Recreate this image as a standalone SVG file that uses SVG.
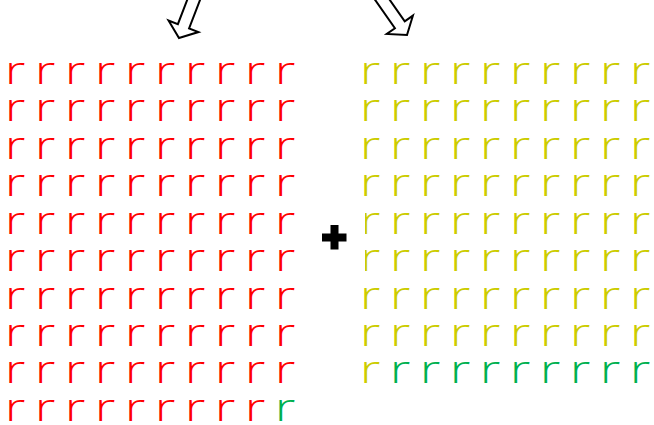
<svg xmlns="http://www.w3.org/2000/svg" width="654" height="425" viewBox="0 0 654 425">
<style>
.red{fill:#ff0000}.yel{fill:#cccc00}.grn{fill:#00b050}
.g text{font-family:"Open Sans","Noto Sans",sans-serif;font-weight:300;font-size:39px}
.arrow{fill:#fff;stroke:#000;stroke-width:2;stroke-linejoin:miter}
</style>
<g id="arrows">
<polygon class="arrow" points="0,0 16,-12.5 6,-12.5 6,-50 -6,-50 -6,-12.5 -16,-12.5" transform="translate(179,38) rotate(21)"/>
<polygon class="arrow" points="0,0 16,-12.5 6,-12.5 6,-50 -6,-50 -6,-12.5 -16,-12.5" transform="translate(407,35) rotate(-35)"/>
</g>
<g id="left-grid" class="g red" transform="scale(1.35 1)">
<text x="3.56 25.78 48 70.22 92.44 114.67 136.89 159.11 181.33 203.56" y="84">rrrrrrrrrr</text>
<text x="3.56 25.78 48 70.22 92.44 114.67 136.89 159.11 181.33 203.56" y="121.4">rrrrrrrrrr</text>
<text x="3.56 25.78 48 70.22 92.44 114.67 136.89 159.11 181.33 203.56" y="158.9">rrrrrrrrrr</text>
<text x="3.56 25.78 48 70.22 92.44 114.67 136.89 159.11 181.33 203.56" y="196.3">rrrrrrrrrr</text>
<text x="3.56 25.78 48 70.22 92.44 114.67 136.89 159.11 181.33 203.56" y="233.8">rrrrrrrrrr</text>
<text x="3.56 25.78 48 70.22 92.44 114.67 136.89 159.11 181.33 203.56" y="271.2">rrrrrrrrrr</text>
<text x="3.56 25.78 48 70.22 92.44 114.67 136.89 159.11 181.33 203.56" y="308.6">rrrrrrrrrr</text>
<text x="3.56 25.78 48 70.22 92.44 114.67 136.89 159.11 181.33 203.56" y="346.1">rrrrrrrrrr</text>
<text x="3.56 25.78 48 70.22 92.44 114.67 136.89 159.11 181.33 203.56" y="383.5">rrrrrrrrrr</text>
<text x="3.56 25.78 48 70.22 92.44 114.67 136.89 159.11 181.33 203.56" y="421">rrrrrrrrr<tspan class="grn">r</tspan></text>
</g>
<g id="right-grid" class="g yel" transform="scale(1.35 1)">
<text x="266.52 288.74 310.96 333.19 355.41 377.63 399.85 422.07 444.3 466.52" y="84">rrrrrrrrrr</text>
<text x="266.52 288.74 310.96 333.19 355.41 377.63 399.85 422.07 444.3 466.52" y="121.4">rrrrrrrrrr</text>
<text x="266.52 288.74 310.96 333.19 355.41 377.63 399.85 422.07 444.3 466.52" y="158.9">rrrrrrrrrr</text>
<text x="266.52 288.74 310.96 333.19 355.41 377.63 399.85 422.07 444.3 466.52" y="196.3">rrrrrrrrrr</text>
<text x="266.52 288.74 310.96 333.19 355.41 377.63 399.85 422.07 444.3 466.52" y="233.8">rrrrrrrrrr</text>
<text x="266.52 288.74 310.96 333.19 355.41 377.63 399.85 422.07 444.3 466.52" y="271.2">rrrrrrrrrr</text>
<text x="266.52 288.74 310.96 333.19 355.41 377.63 399.85 422.07 444.3 466.52" y="308.6">rrrrrrrrrr</text>
<text x="266.52 288.74 310.96 333.19 355.41 377.63 399.85 422.07 444.3 466.52" y="346.1">rrrrrrrrrr</text>
<text x="266.52 288.74 310.96 333.19 355.41 377.63 399.85 422.07 444.3 466.52" y="383.5">r<tspan class="grn">rrrrrrrrr</tspan></text>
</g>
<g id="plus">
<rect x="318" y="205" width="47" height="75" fill="#fff"/>
<path d="M330.5 225h8v8.5h8v8h-8v8h-8v-8h-8.5v-8h8.5z" fill="#000"/>
</g>
</svg>
